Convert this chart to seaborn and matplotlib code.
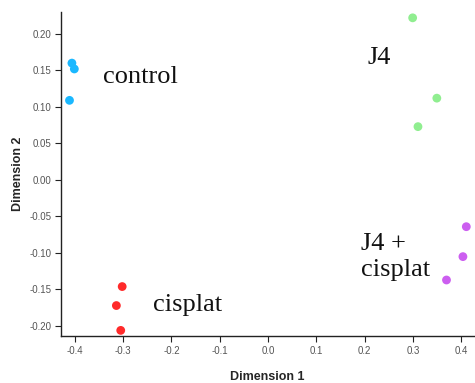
import matplotlib
matplotlib.use("Agg")
import matplotlib.pyplot as plt
import seaborn as sns
import pandas as pd

# MDS coordinates
groups = ["control"] * 3 + ["J4"] * 3 + ["cisplat"] * 3 + ["J4 + cisplat"] * 3
dim1 = [-0.406, -0.401, -0.411,
        0.299, 0.349, 0.310,
        -0.302, -0.314, -0.305,
        0.410, 0.403, 0.369]
dim2 = [0.160, 0.152, 0.109,
        0.222, 0.112, 0.073,
        -0.146, -0.172, -0.206,
        -0.064, -0.105, -0.137]

palette = {"control": "#1ab8ff", "J4": "#90ee90",
           "cisplat": "#ff2a2a", "J4 + cisplat": "#cc5ef0"}

label_text = ["control", "J4", "cisplat", "J4 +\ncisplat"]
label_x = [-0.342, 0.205, -0.239, 0.193]
label_y = [0.141, 0.167, -0.171, -0.106]

x_ticks = [-0.4, -0.3, -0.2, -0.1, 0.0, 0.1, 0.2, 0.3, 0.4]
y_ticks = [-0.20, -0.15, -0.10, -0.05, 0.00, 0.05, 0.10, 0.15, 0.20]

df = pd.DataFrame({"Dimension 1": dim1, "Dimension 2": dim2, "group": groups})

sns.set_style("ticks")
plt.rcParams["font.family"] = ["Liberation Sans", "DejaVu Sans"]

fig = plt.figure(figsize=(4.75, 3.83), dpi=100)
ax = fig.add_axes([0.128, 0.1227, 0.871, 0.846])

sns.scatterplot(data=df, x="Dimension 1", y="Dimension 2", hue="group",
                palette=palette, s=40, linewidth=0, legend=False, ax=ax)

for t, x, y in zip(label_text, label_x, label_y):
    ax.text(x, y, t, family="Liberation Serif", fontsize=19, va="center",
            ha="left", linespacing=1.25, color="#111111")

ax.set_xlim(-0.429, 0.427)
ax.set_ylim(-0.2137, 0.230)
ax.set_xticks(x_ticks)
ax.set_yticks(y_ticks)
ax.set_xticklabels([f"{v:.1f}" for v in x_ticks])
ax.set_yticklabels([f"{v:.2f}" for v in y_ticks])
ax.tick_params(labelsize=7, labelcolor="#555555", length=4, width=0.8,
               color="#222222", pad=3)
ax.set_xlabel("Dimension 1", fontsize=9, fontweight="bold", labelpad=11)
ax.set_ylabel("Dimension 2", fontsize=9, fontweight="bold", labelpad=4)

sns.despine(ax=ax)
for side in ["left", "bottom"]:
    ax.spines[side].set_color("#222222")
    ax.spines[side].set_linewidth(1.0)

fig.savefig("out.png", dpi=100)
